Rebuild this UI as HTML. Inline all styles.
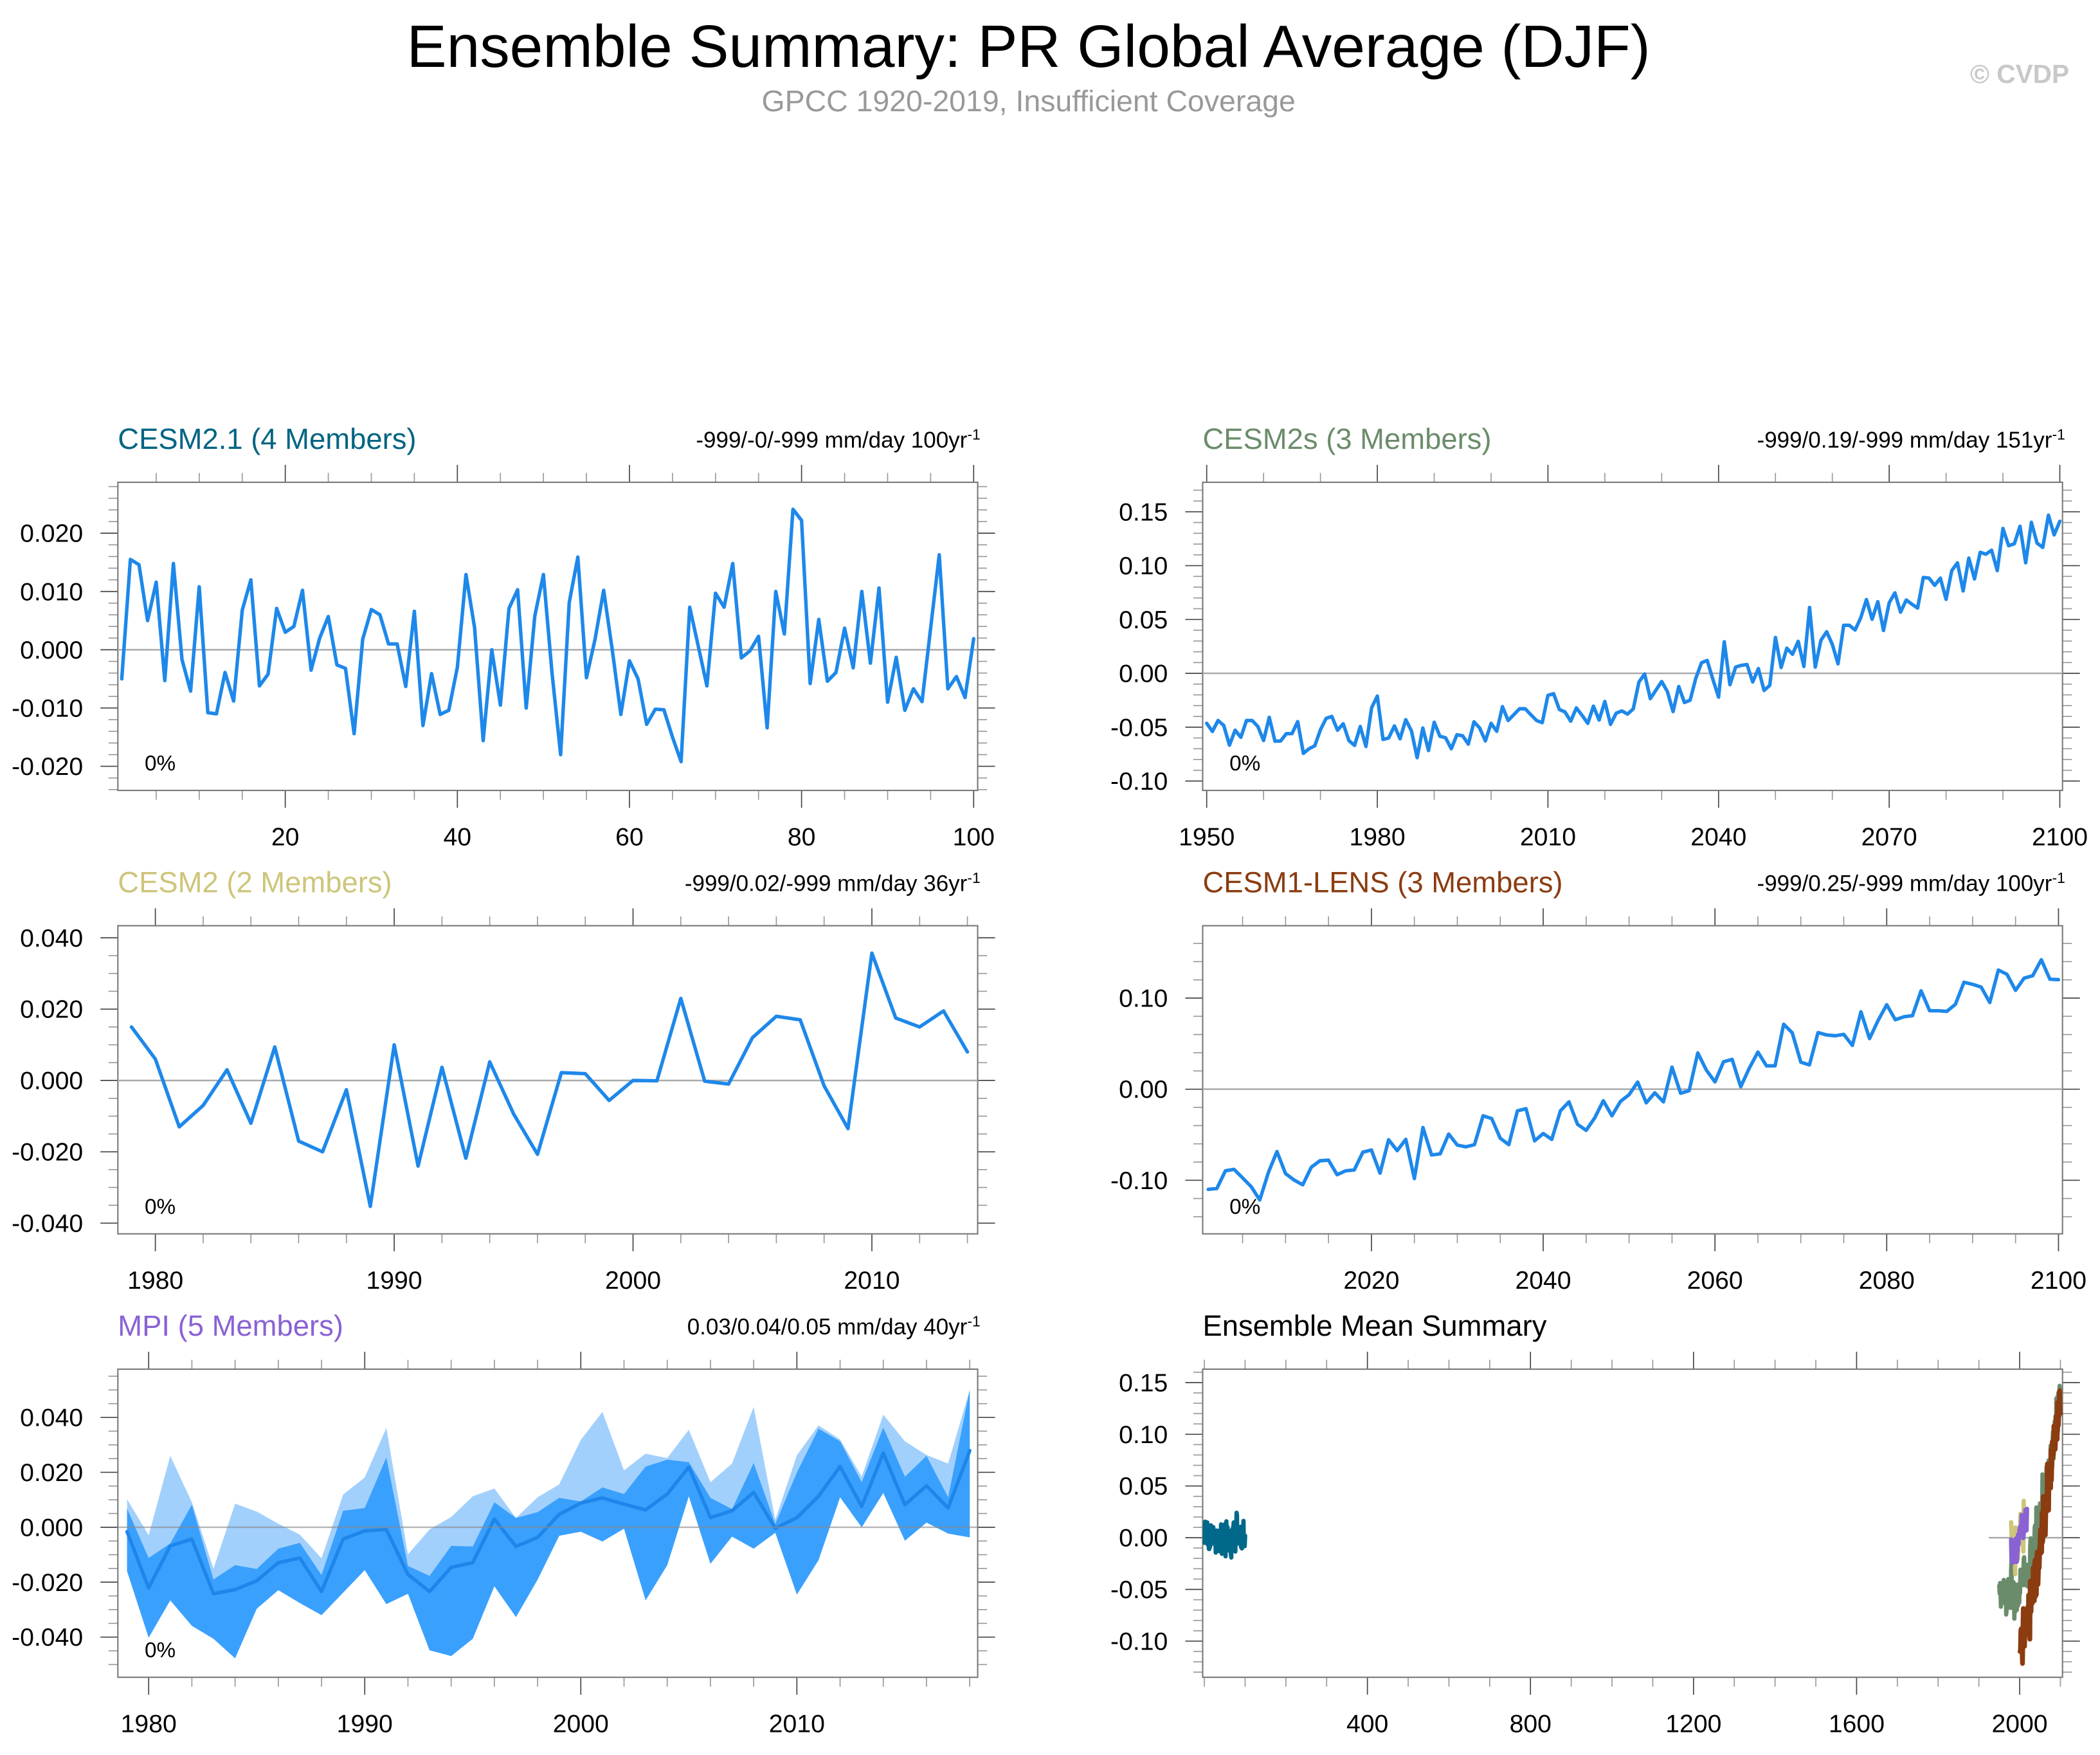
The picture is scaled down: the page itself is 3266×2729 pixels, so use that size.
<!DOCTYPE html>
<html><head><meta charset="utf-8">
<style>
html,body{margin:0;padding:0;background:#fff;}
svg{display:block;font-family:"Liberation Sans",Arial,sans-serif;}
</style></head>
<body>
<svg id="chart" xmlns="http://www.w3.org/2000/svg" width="3266" height="2729" viewBox="0 0 1568 1310" preserveAspectRatio="none">
<rect x="0" y="0" width="1568" height="1310" fill="#fff"/>
<text x="768" y="50" font-size="44.6" text-anchor="middle" fill="#000">Ensemble Summary: PR Global Average (DJF)</text>
<text x="768" y="83" font-size="22.3" text-anchor="middle" fill="#999">GPCC 1920-2019, Insufficient Coverage</text>
<text x="1545" y="62" font-size="19.5" font-weight="bold" text-anchor="end" fill="#c8c8c8">© CVDP</text>
<g id="panels"></g>
</svg>
<script>
// ---------- DATA ----------
const cesm21X = Array.from({length:100},(_,i)=>i+1);
const cesm21Vals = [-0.005,0.0155,0.0146,0.005,0.0116,-0.0053,0.0148,-0.0017,-0.0071,0.0108,
-0.0108,-0.011,-0.0039,-0.0088,0.0068,0.012,-0.0062,-0.0042,0.0071,0.003,
0.004,0.0102,-0.0035,0.002,0.0057,-0.0026,-0.0032,-0.0144,0.0018,0.0069,
0.006,0.001,0.001,-0.0063,0.0066,-0.013,-0.0041,-0.0111,-0.0104,-0.003,
0.0129,0.0038,-0.0156,0.0,-0.0095,0.0071,0.0103,-0.01,0.0058,0.0129,
-0.004,-0.018,0.0081,0.0159,-0.0048,0.0018,0.0102,0.0,-0.0111,-0.0019,
-0.005,-0.0128,-0.0102,-0.0103,-0.015,-0.0192,0.0073,0.0006,-0.0062,0.0097,
0.0073,0.0148,-0.0014,-0.0002,0.0023,-0.0134,0.01,0.0027,0.0241,0.0222,
-0.0058,0.0052,-0.0054,-0.0039,0.0037,-0.0031,0.01,-0.0023,0.0106,-0.009,
-0.0013,-0.0104,-0.0067,-0.0089,0.0037,0.0163,-0.0067,-0.0046,-0.0082,0.0019];
const cesm2sStart = 1950;
const cesm2sVals = [-0.0464,-0.054,-0.0438,-0.0484,-0.0667,-0.0528,-0.0594,-0.0438,-0.0438,-0.0494,
-0.0624,-0.0408,-0.063,-0.0628,-0.056,-0.056,-0.0448,-0.0743,-0.07,-0.0673,
-0.0524,-0.0418,-0.04,-0.0528,-0.0468,-0.0624,-0.0669,-0.0494,-0.0679,-0.0319,
-0.0211,-0.0614,-0.06,-0.0488,-0.0608,-0.043,-0.0534,-0.0783,-0.0508,-0.0717,
-0.0454,-0.0584,-0.0598,-0.07,-0.057,-0.058,-0.0657,-0.045,-0.0508,-0.0628,
-0.0464,-0.0538,-0.0309,-0.0438,-0.0384,-0.0329,-0.0329,-0.0384,-0.0438,-0.0458,
-0.0205,-0.0189,-0.0335,-0.0359,-0.0444,-0.0321,-0.039,-0.0464,-0.0305,-0.0434,
-0.0261,-0.0474,-0.037,-0.0349,-0.0378,-0.033,-0.008,-0.0006,-0.0235,-0.0155,
-0.0076,-0.0169,-0.0355,-0.0122,-0.0271,-0.0249,-0.0046,0.0098,0.012,-0.0056,
-0.0221,0.0293,-0.0106,0.0058,0.0074,0.0082,-0.008,0.0044,-0.0159,-0.0112,
0.0333,0.0054,0.0233,0.0177,0.0297,0.0064,0.0612,0.0058,0.0307,0.0386,
0.0269,0.0088,0.0446,0.0446,0.0402,0.0516,0.0685,0.0502,0.0665,0.0398,
0.0655,0.0747,0.0568,0.0681,0.0641,0.0606,0.089,0.0884,0.0817,0.0884,
0.0687,0.0954,0.1026,0.0765,0.107,0.0876,0.1124,0.1106,0.1143,0.0954,
0.1345,0.1185,0.1203,0.1365,0.1026,0.1402,0.1209,0.1169,0.1468,0.1285,0.1412];
const cesm2Start = 1979;
const cesm2Vals = [0.015,0.006,-0.013,-0.007,0.003,-0.012,0.0094,-0.017,-0.020,-0.0026,
-0.0353,0.010,-0.024,0.0037,-0.0218,0.0052,-0.0094,-0.0207,0.0022,0.0019,
-0.0056,0.0,-0.0001,0.023,-0.0002,-0.001,0.012,0.018,0.017,-0.0015,
-0.0135,0.0357,0.0175,0.015,0.0195,0.008];
const lensStart = 2001;
const lensVals = [-0.110,-0.109,-0.0896,-0.088,-0.0974,-0.107,-0.1216,-0.0915,-0.0685,-0.0927,
-0.0998,-0.105,-0.0856,-0.0786,-0.0779,-0.0939,-0.0896,-0.0887,-0.0692,-0.0668,
-0.0922,-0.0555,-0.0675,-0.0551,-0.0981,-0.0421,-0.0722,-0.0711,-0.0492,-0.0614,
-0.0633,-0.0609,-0.0292,-0.0322,-0.0539,-0.0609,-0.0238,-0.0214,-0.0567,-0.0487,
-0.0551,-0.0238,-0.0139,-0.0386,-0.0452,-0.0315,-0.0127,-0.0292,-0.0134,-0.0061,
0.0078,-0.015,-0.004,-0.0139,0.0242,-0.0045,-0.0016,0.0398,0.0209,0.008,
0.0301,0.0327,0.0026,0.0231,0.0407,0.0256,0.0256,0.0713,0.0619,0.0296,
0.0266,0.0621,0.0595,0.0586,0.0602,0.048,0.0849,0.0555,0.0755,0.0927,
0.0762,0.0795,0.0807,0.108,0.0861,0.0861,0.0854,0.0932,0.1174,0.1151,
0.112,0.0951,0.1308,0.1261,0.1085,0.1219,0.1245,0.1421,0.1207,0.1202];
const mpiStart = 1979;
const mpiMax = [0.0102,-0.0029,0.0260,0.0091,-0.0151,0.0086,0.0057,0.0013,-0.0027,-0.0113,
0.0119,0.0181,0.0362,-0.0099,-0.0008,0.0037,0.0113,0.0141,0.0034,0.0109,
0.0156,0.0318,0.0420,0.0207,0.0268,0.0252,0.0355,0.0164,0.0232,0.0438,
0.0027,0.0262,0.0371,0.0320,0.0184,0.0410,0.0313,0.0263,0.0232,0.0500];
const mpiHigh = [0.0068,-0.0112,-0.0059,0.0082,-0.0190,-0.0138,-0.0152,-0.0078,-0.0057,-0.0174,
0.0060,0.0070,0.0254,-0.0141,-0.0177,-0.0068,-0.0070,0.0091,0.0034,0.0055,
0.0107,0.0094,0.0145,0.0121,0.0221,0.0246,0.0237,0.0107,0.0066,0.0234,
0.0012,0.0199,0.0359,0.0313,0.0164,0.0363,0.0184,0.0260,0.0109,0.0500];
const mpiMean = [-0.0016,-0.0221,-0.0068,-0.0043,-0.0242,-0.0227,-0.0195,-0.0129,-0.0112,-0.0234,
-0.0043,-0.0013,-0.0008,-0.0172,-0.0234,-0.0146,-0.0129,0.0030,-0.0070,-0.0037,
0.0047,0.0088,0.0107,0.0084,0.0063,0.0121,0.0219,0.0035,0.0060,0.0127,
-0.0004,0.0035,0.0113,0.0221,0.0076,0.0270,0.0082,0.0151,0.0070,0.0279];
const mpiMin = [-0.0160,-0.0402,-0.0266,-0.0359,-0.0406,-0.0477,-0.0297,-0.0229,-0.0276,-0.0320,
-0.0238,-0.0156,-0.0280,-0.0242,-0.0448,-0.0469,-0.0406,-0.0215,-0.0327,-0.0191,
-0.0031,-0.0016,-0.0052,-0.0005,-0.0266,-0.0138,0.0113,-0.0133,-0.0034,-0.0078,
-0.0020,-0.0245,-0.0120,0.0109,0.0,0.0125,-0.0049,0.0017,-0.0023,-0.0037];
const p1XTicks=[20,40,60,80,100], p1YTicks=[0.02,0.01,0,-0.01,-0.02], p1YLabels=["0.020","0.010","0.000","-0.010","-0.020"];
const p2XTicks=[1950,1980,2010,2040,2070,2100], p2YTicks=[0.15,0.10,0.05,0,-0.05,-0.10], p2YLabels=["0.15","0.10","0.05","0.00","-0.05","-0.10"];
const p3XTicks=[1980,1990,2000,2010], p3YTicks=[0.04,0.02,0,-0.02,-0.04], p3YLabels=["0.040","0.020","0.000","-0.020","-0.040"];
const p4XTicks=[2020,2040,2060,2080,2100], p4YTicks=[0.10,0,-0.10], p4YLabels=["0.10","0.00","-0.10"];
const p5XTicks=[1980,1990,2000,2010], p5YTicks=[0.04,0.02,0,-0.02,-0.04], p5YLabels=["0.040","0.020","0.000","-0.020","-0.040"];
const p6XTicks=[400,800,1200,1600,2000], p6YTicks=[0.15,0.10,0.05,0,-0.05,-0.10], p6YLabels=["0.15","0.10","0.05","0.00","-0.05","-0.10"];

// ---------- DRAWING ----------
const NS="http://www.w3.org/2000/svg";
const root=document.getElementById('panels');
function mk(tag,attrs,parent){const e=document.createElementNS(NS,tag);for(const k in attrs)e.setAttribute(k,attrs[k]);(parent||root).appendChild(e);return e;}
function years(start,n){return Array.from({length:n},(_,i)=>start+i);}
const BLUE="#1e88ea";
const TICKFS=18.8;

function panel(cfg){
  const g=mk('g',{});
  
  
  const sx=v=>cfg.xa[1]+(v-cfg.xa[0])*(cfg.xb[1]-cfg.xa[1])/(cfg.xb[0]-cfg.xa[0]);
  const sy=v=>cfg.ya[1]+(v-cfg.ya[0])*(cfg.yb[1]-cfg.ya[1])/(cfg.yb[0]-cfg.ya[0]);
  const [L,R,T,B]=cfg.frame;
  const vx0=cfg.xinv(L), vx1=cfg.xinv(R);
  for(let v=Math.ceil(vx0/cfg.xminor)*cfg.xminor; v<=vx1+1e-9; v+=cfg.xminor){
    const x=sx(v); if(x<L-0.5||x>R+0.5) continue;
    const major=cfg.xticks.some(t=>Math.abs(t-v)<1e-6);
    const len=major?13:7;
    mk('line',{x1:x,y1:T,x2:x,y2:T-len,stroke:major?"#444":"#999","stroke-width":0.8},g);
    mk('line',{x1:x,y1:B,x2:x,y2:B+len,stroke:major?"#444":"#999","stroke-width":0.8},g);
  }
  const vy0=cfg.yinv(B), vy1=cfg.yinv(T);
  const nmin=Math.ceil(vy0/cfg.yminor-1e-6), nmax=Math.floor(vy1/cfg.yminor+1e-6);
  for(let k=nmin;k<=nmax;k++){
    const v=k*cfg.yminor; const y=sy(v);
    const major=cfg.yticks.some(t=>Math.abs(t-v)<1e-6);
    const len=major?13:7;
    mk('line',{x1:L,y1:y,x2:L-len,y2:y,stroke:major?"#444":"#999","stroke-width":0.8},g);
    mk('line',{x1:R,y1:y,x2:R+len,y2:y,stroke:major?"#444":"#999","stroke-width":0.8},g);
  }
  const fr=mk('rect',{x:L,y:T,width:R-L,height:B-T,fill:"none",stroke:"#777","stroke-width":1},g);
  
  
  cfg.xticks.forEach(t=>{const tx=mk('text',{x:sx(t),y:B+41,"font-size":TICKFS,"text-anchor":"middle",fill:"#000"},g);tx.textContent=String(t);
    
    });
  cfg.yticks.forEach((t,i)=>{const ty=mk('text',{x:L-26,y:sy(t)+6.5,"font-size":TICKFS,"text-anchor":"end",fill:"#000"},g);ty.textContent=cfg.ylabels[i];
    
    });
  if(cfg.zeroLine){const z=mk('line',{x1:cfg.zeroLine[0],y1:sy(0),x2:cfg.zeroLine[1],y2:sy(0),stroke:"#aaa","stroke-width":1.2},g);
    
    }
  const tt=mk('text',{x:L,y:T-25,"font-size":21.8,fill:cfg.titleColor},g);tt.textContent=cfg.title;
  
  
  if(cfg.stat){const st=mk('text',{x:R+2,y:T-26,"font-size":16.8,"text-anchor":"end",fill:"#000"},g);
    
    
    const a=mk('tspan',{},st);a.textContent=cfg.stat;
    const b=mk('tspan',{dy:-6,"font-size":11},st);b.textContent="-1";}
  if(cfg.pct){const p=mk('text',{x:L+20,y:B-15,"font-size":16,fill:"#000"},g);p.textContent="0%";
    
    }
  return {g,sx,sy};
}
function line(P,xs,vs,color,w,name){
  const d=xs.map((x,i)=>(i?"L":"M")+P.sx(x).toFixed(2)+" "+P.sy(vs[i]).toFixed(2)).join(" ");
  const p=mk('path',{d:d,fill:"none",stroke:color,"stroke-width":w,"stroke-linejoin":"round","stroke-linecap":"round"},P.g);
  
  
  return p;
}
function band(P,xs,hi,lo,color,name){
  let d=xs.map((x,i)=>(i?"L":"M")+P.sx(x).toFixed(2)+" "+P.sy(hi[i]).toFixed(2)).join(" ");
  for(let i=xs.length-1;i>=0;i--) d+=" L"+P.sx(xs[i]).toFixed(2)+" "+P.sy(lo[i]).toFixed(2);
  const p=mk('path',{d:d+" Z",fill:color,stroke:"none"},P.g);
  
  
}
function mkcfg(o){
  const f=(a,b)=>v=>a[0]+(v-a[1])*(b[0]-a[0])/(b[1]-a[1]);
  o.xinv=f(o.xa,o.xb); o.yinv=f(o.ya,o.yb); return o;
}
const P1=panel(mkcfg({name:'panel-cesm21',frame:[88,730,360,590],xa:[20,213],xb:[100,727],ya:[0.02,398],yb:[-0.02,572],
  xticks:p1XTicks,xminor:5,yticks:p1YTicks,ylabels:p1YLabels,yminor:0.002,zeroLine:[88,730],
  title:"CESM2.1 (4 Members)",titleColor:"#006482",stat:"-999/-0/-999 mm/day 100yr",pct:true}));
line(P1,cesm21X,cesm21Vals,BLUE,2.6,'cesm21-line');
const P2=panel(mkcfg({name:'panel-cesm2s',frame:[898,1540,360,590],xa:[1950,901],xb:[2100,1538],ya:[0.15,382],yb:[-0.10,583],
  xticks:p2XTicks,xminor:10,yticks:p2YTicks,ylabels:p2YLabels,yminor:0.01,zeroLine:[898,1540],
  title:"CESM2s (3 Members)",titleColor:"#6b8c6b",stat:"-999/0.19/-999 mm/day 151yr",pct:true}));
line(P2,years(cesm2sStart,cesm2sVals.length),cesm2sVals,BLUE,2.6,'cesm2s-line');
const P3=panel(mkcfg({name:'panel-cesm2',frame:[88,730,691,921],xa:[1980,116],xb:[2010,651],ya:[0.04,700],yb:[-0.04,913],
  xticks:p3XTicks,xminor:2,yticks:p3YTicks,ylabels:p3YLabels,yminor:0.005,zeroLine:[88,730],
  title:"CESM2 (2 Members)",titleColor:"#cdc57a",stat:"-999/0.02/-999 mm/day 36yr",pct:true}));
line(P3,years(cesm2Start,cesm2Vals.length),cesm2Vals,BLUE,2.6,'cesm2-line');
const P4=panel(mkcfg({name:'panel-cesm1-lens',frame:[898,1540,691,921],xa:[2020,1024],xb:[2100,1537],ya:[0.10,745],yb:[-0.10,881],
  xticks:p4XTicks,xminor:5,yticks:p4YTicks,ylabels:p4YLabels,yminor:0.02,zeroLine:[898,1540],
  title:"CESM1-LENS (3 Members)",titleColor:"#8b3c10",stat:"-999/0.25/-999 mm/day 100yr",pct:true}));
line(P4,years(lensStart,lensVals.length),lensVals,BLUE,2.6,'cesm1-lens-line');
const P5=panel(mkcfg({name:'panel-mpi',frame:[88,730,1022,1252],xa:[1980,111],xb:[2010,595],ya:[0.04,1058],yb:[-0.04,1222],
  xticks:p5XTicks,xminor:2,yticks:p5YTicks,ylabels:p5YLabels,yminor:0.005,zeroLine:null,
  title:"MPI (5 Members)",titleColor:"#8a62d4",stat:"0.03/0.04/0.05 mm/day 40yr",pct:false}));
const mpiX=years(mpiStart,mpiMean.length);
band(P5,mpiX,mpiMax,mpiMin,"#a2d0fd",'mpi-range-band');
band(P5,mpiX,mpiHigh,mpiMin,"#3aa0fd",'mpi-spread-band');
line(P5,mpiX,mpiMean,"#1e86ea",2.6,'mpi-mean-line');
{const z=mk('line',{x1:88,y1:P5.sy(0),x2:730,y2:P5.sy(0),stroke:"#888","stroke-opacity":0.6,"stroke-width":1.2},P5.g);
 
 
 const p=mk('text',{x:108,y:1237,"font-size":16,fill:"#000"},P5.g);p.textContent="0%";
 
 }
const P6=panel(mkcfg({name:'panel-ensemble-mean-summary',frame:[898,1540,1022,1252],xa:[400,1021],xb:[2000,1508],ya:[0.15,1032],yb:[-0.10,1225],
  xticks:p6XTicks,xminor:100,yticks:p6YTicks,ylabels:p6YLabels,yminor:0.01,zeroLine:[1485,1540],
  title:"Ensemble Mean Summary",titleColor:"#000",stat:null,pct:false}));
line(P6,cesm21X,cesm21Vals,"#00688a",3.2,'summary-cesm21');
line(P6,years(cesm2sStart,cesm2sVals.length),cesm2sVals,"#6b8c6b",3.2,'summary-cesm2s');
line(P6,years(cesm2Start,cesm2Vals.length),cesm2Vals,"#cdc57a",3.2,'summary-cesm2');
line(P6,mpiX,mpiMean,"#8a62d4",3.2,'summary-mpi');
line(P6,years(lensStart,lensVals.length),lensVals,"#8b3c10",3.6,'summary-cesm1-lens');
</script>
</body></html>
